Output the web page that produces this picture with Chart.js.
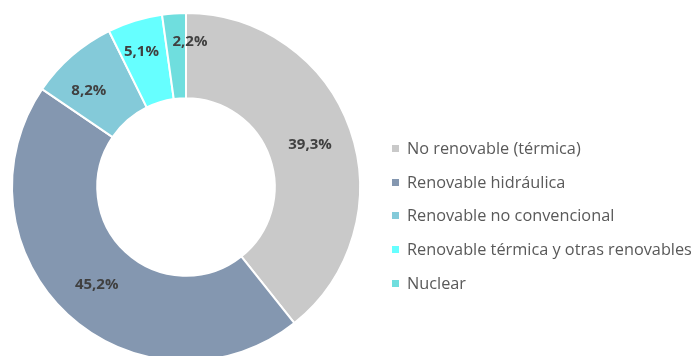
<!DOCTYPE html>
<html lang="es">
<head>
<meta charset="utf-8">
<script src="https://cdn.jsdelivr.net/npm/chart.js@4.4.1/dist/chart.umd.min.js"></script>
<style>
  html, body { margin: 0; padding: 0; background: #fff; overflow: hidden; }
  #wrap { position: relative; width: 695px; height: 380px; }
  #chart { position: absolute; left: 0; top: 0; }
  #leyenda { position: absolute; left: 392px; top: 136px; margin: 0; padding: 0; list-style: none;
             font-family: "Open Sans", "Noto Sans", sans-serif; font-size: 16.3px; color: #595959; }
  #leyenda li { height: 33.7px; line-height: 24px; white-space: nowrap; }
  #leyenda span.sw { display: inline-block; width: 7px; height: 7px; margin-right: 8px; vertical-align: 2px; }
</style>
</head>
<body>
<div id="wrap">
  <canvas id="chart" width="695" height="380"></canvas>
  <ul id="leyenda"></ul>
</div>
<script>
// ── Datos ─────────────────────────────────────
const categorias = [
  'No renovable (térmica)',
  'Renovable hidráulica',
  'Renovable no convencional',
  'Renovable térmica y otras renovables',
  'Nuclear'
];
const participacion = [39.3, 45.2, 8.2, 5.1, 2.2];
const colores = ['#c9c9c9', '#8497b0', '#84cad9', '#66ffff', '#6fdede'];

// ── Etiquetas de porcentaje sobre cada sector ──
const etiquetasPct = {
  id: 'etiquetasPct',
  afterDatasetsDraw(chart, args, opts) {
    const { ctx } = chart;
    const meta = chart.getDatasetMeta(0);
    ctx.save();
    ctx.font = 'bold 15px "Open Sans", sans-serif';
    ctx.fillStyle = '#404040';
    ctx.textAlign = 'center';
    ctx.textBaseline = 'middle';
    meta.data.forEach((arc, i) => {
      const { x, y, startAngle, endAngle, innerRadius, outerRadius } = arc.getProps(
        ['x', 'y', 'startAngle', 'endAngle', 'innerRadius', 'outerRadius'], true);
      const n = opts.ajustes[i] || { dr: 0, da: 0 };
      const ang = (startAngle + endAngle) / 2 + n.da * Math.PI / 180;
      const r = (innerRadius + outerRadius) / 2 + n.dr;
      const txt = participacion[i].toFixed(1).replace('.', ',') + '%';
      ctx.fillText(txt, x + Math.cos(ang) * r, y + Math.sin(ang) * r + 1);
    });
    ctx.restore();
  }
};

new Chart(document.getElementById('chart'), {
  type: 'doughnut',
  data: {
    labels: categorias,
    datasets: [{
      data: participacion,
      backgroundColor: colores,
      borderColor: '#ffffff',
      borderWidth: 2
    }]
  },
  options: {
    responsive: false,
    animation: false,
    cutout: '51%',
    layout: { padding: { left: 11, top: 12, right: 334, bottom: 18 } },
    plugins: {
      legend: { display: false },
      tooltip: { enabled: false },
      etiquetasPct: {
        ajustes: { 2: { dr: 6, da: -4 }, 3: { dr: 12, da: -1 }, 4: { dr: 15, da: 5.5 } }
      }
    }
  },
  plugins: [etiquetasPct]
});

// ── Leyenda ───────────────────────────────────
const leyenda = document.getElementById('leyenda');
categorias.forEach((c, i) => {
  leyenda.innerHTML += `<li><span class="sw" style="background:${colores[i]}"></span>${c}</li>`;
});
</script>
</body>
</html>
